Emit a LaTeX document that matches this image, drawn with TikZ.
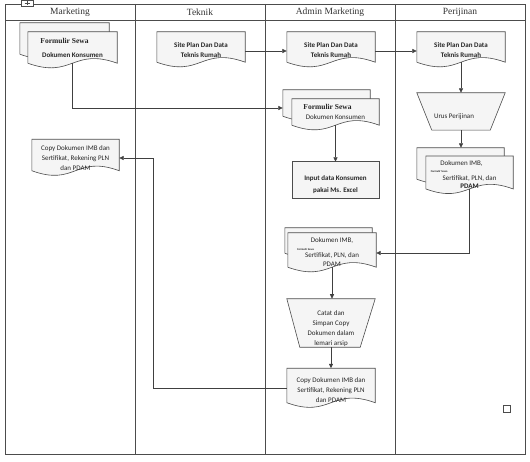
\documentclass[tikz,border=0pt]{standalone}
\usepackage{fontspec}
\setmainfont{Carlito}
\newfontfamily\serifhd{Liberation Serif}
\usetikzlibrary{arrows.meta,calc,backgrounds}
\newcommand{\vpush}[1]{\rule{0pt}{#1pt}}
\newcommand{\tinyform}[1]{\makebox[0pt][r]{{\fontsize{2.8}{3}\selectfont\bfseries Formulir Sewa}\hspace{#1pt}}}
\newcommand{\docout}[1]{\path[shp] (#1.north west) -- (#1.north east) -- (#1.south east) .. controls ($(#1.south)+(0pt,16pt)$) and ($(#1.south)+(0pt,-16pt)$) .. (#1.south west) -- cycle;}
\newcommand{\trapout}[3]{\path[shp] (#1.north west) -- (#1.north east) -- ($(#1.south east)+(-#3pt,0pt)$) -- ($(#1.south west)+(#2pt,0pt)$) -- cycle;}
\begin{document}
\begin{tikzpicture}[x=1pt,y=-1pt,
  ln/.style={draw=black!70, line width=0.6pt},
  shp/.style={ln, fill=gray!8},
  box/.style={inner sep=0pt, align=center, font=\fontsize{7}{10}\selectfont, text=black!85},
  hdr/.style={inner sep=0pt, font=\serifhd\fontsize{9.5}{11}\selectfont, text=black!80},
  arr/.style={draw=black!75, line width=0.7pt, -{Triangle[length=4.5pt,width=4pt]}}]
\useasboundingbox (0,0) rectangle (530,462);

% headers
\node[hdr] (hm) at (70,12.5) {Marketing};
\node[hdr] (ht) at (200,12.5) {Teknik};
\node[hdr] (ha) at (330,12.5) {Admin Marketing};
\node[hdr] (hp) at (460,12.5) {Perijinan};

% Marketing
\node[box, minimum width=89, minimum height=31] (mkb) at (64.5,38.5) {};
\node[box, minimum width=89, minimum height=31] (mkf) at (72.5,47.5)
  {\hspace*{-16pt}{\serifhd\bfseries\fontsize{7.5}{9}\selectfont Formulir Sewa}\\[4pt]{\bfseries Dokumen Konsumen}};
\node[box, minimum width=87, minimum height=30] (mc) at (75.5,155)
  {\vpush{11}Copy Dokumen IMB dan\\Sertifikat, Rekening PLN\\dan PDAM};

% Teknik
\node[box, minimum width=88, minimum height=30] (tk) at (201,47)
  {\vpush{12}{\bfseries Site Plan Dan Data}\\{\bfseries Teknis Rumah}};

% Admin Marketing
\node[box, minimum width=88, minimum height=30] (as) at (331,47)
  {\vpush{12}{\bfseries Site Plan Dan Data}\\{\bfseries Teknis Rumah}};
\node[box, minimum width=87, minimum height=26] (am1b) at (326.5,103) {};
\node[box, minimum width=87, minimum height=26] (am1f) at (335.5,112)
  {\hspace*{-16pt}{\serifhd\bfseries\fontsize{7.5}{9}\selectfont Formulir Sewa}\\Dokumen Konsumen};
\node[box, minimum width=87, minimum height=36] (inp) at (335.5,180)
  {\vpush{14}{\bfseries Input data Konsumen}\\[2pt]{\bfseries pakai Ms. Excel}};
\node[box, minimum width=87, minimum height=25] (am2b) at (328.5,240.5) {};
\node[box, minimum width=88, minimum height=24, font=\fontsize{7}{7.5}\selectfont] (am2f) at (332,250)
  {\vpush{10}Dokumen IMB,\\\tinyform{18}\\Sertifikat, PLN, dan\\[1.5pt]PDAM};
\node[box, minimum width=88, minimum height=46] (at) at (331,323)
  {\vpush{17}Catat dan\\Simpan Copy\\Dokumen dalam\\lemari arsip};
\node[box, minimum width=88, minimum height=29] (ac) at (331,385.5)
  {\vpush{14}Copy Dokumen IMB dan\\Sertifikat, Rekening PLN\\dan PDAM};

% Perijinan
\node[box, minimum width=88, minimum height=30] (ps) at (461,47)
  {\vpush{12}{\bfseries Site Plan Dan Data}\\{\bfseries Teknis Rumah}};
\node[box, minimum width=88, minimum height=37] (pt) at (461,111.5)
  {\vpush{16}\hspace*{-14pt}Urus Perijinan};
\node[box, minimum width=87, minimum height=31] (pmb) at (460.5,163.5) {};
\node[box, minimum width=87, minimum height=31, font=\fontsize{7}{7.5}\selectfont] (pmf) at (469.5,172.5)
  {\vpush{9}\hspace*{-16pt}Dokumen IMB,\\\tinyform{22}\\Sertifikat, PLN, dan\\[1pt]{\bfseries PDAM}};

\begin{scope}[on background layer]
  \path[fill=white] (0,0) rectangle (530,462);
  \draw[ln] (5,4) rectangle (525,454);
  \draw[ln] (5,20) -- (525,20);
  \draw[ln] (135,4) -- (135,454);
  \draw[ln] (265,4) -- (265,454);
  \draw[ln] (395,4) -- (395,454);
  \draw[ln, fill=white, line width=0.5pt] (21,0) rectangle (33,6);
  \draw[black!70, line width=0.4pt] (27,1) -- (27,5) (24.5,3) -- (29.5,3);
  \draw[ln, fill=white, line width=0.5pt] (503,405) rectangle (510,412);
  \docout{mkb}
  \docout{mkf}
  \docout{mc}
  \docout{tk}
  \docout{as}
  \docout{am1b}
  \docout{am1f}
  \path[shp] (inp.north west) rectangle (inp.south east);
  \docout{am2b}
  \docout{am2f}
  \trapout{at}{13}{15}
  \docout{ac}
  \docout{ps}
  \trapout{pt}{15}{15}
  \docout{pmb}
  \docout{pmf}
\end{scope}

% connectors
\coordinate (bend) at (153,158);
\draw[arr] (mkf.south) |- ([yshift=-5pt]am1b.west);
\draw[arr] ([yshift=-4pt]tk.east) -- ([yshift=-4pt]as.west);
\draw[arr] ([yshift=-4pt]as.east) -- ([yshift=-4pt]ps.west);
\draw[arr] (ps.south) -- (pt.north);
\draw[arr] (pt.south) -- (pt.south |- pmb.north);
\draw[arr] (am1f.south) -- (inp.north);
\draw[arr] (pmf.south) |- ([yshift=-3pt]am2f.east);
\draw[arr] (am2f.south) -- (am2f.south |- at.north);
\draw[arr] (at.south) -- (ac.north);
\draw[arr] ([yshift=-2.5pt]ac.west) -| (bend) -- ([yshift=-3pt]mc.east);
\end{tikzpicture}
\end{document}
